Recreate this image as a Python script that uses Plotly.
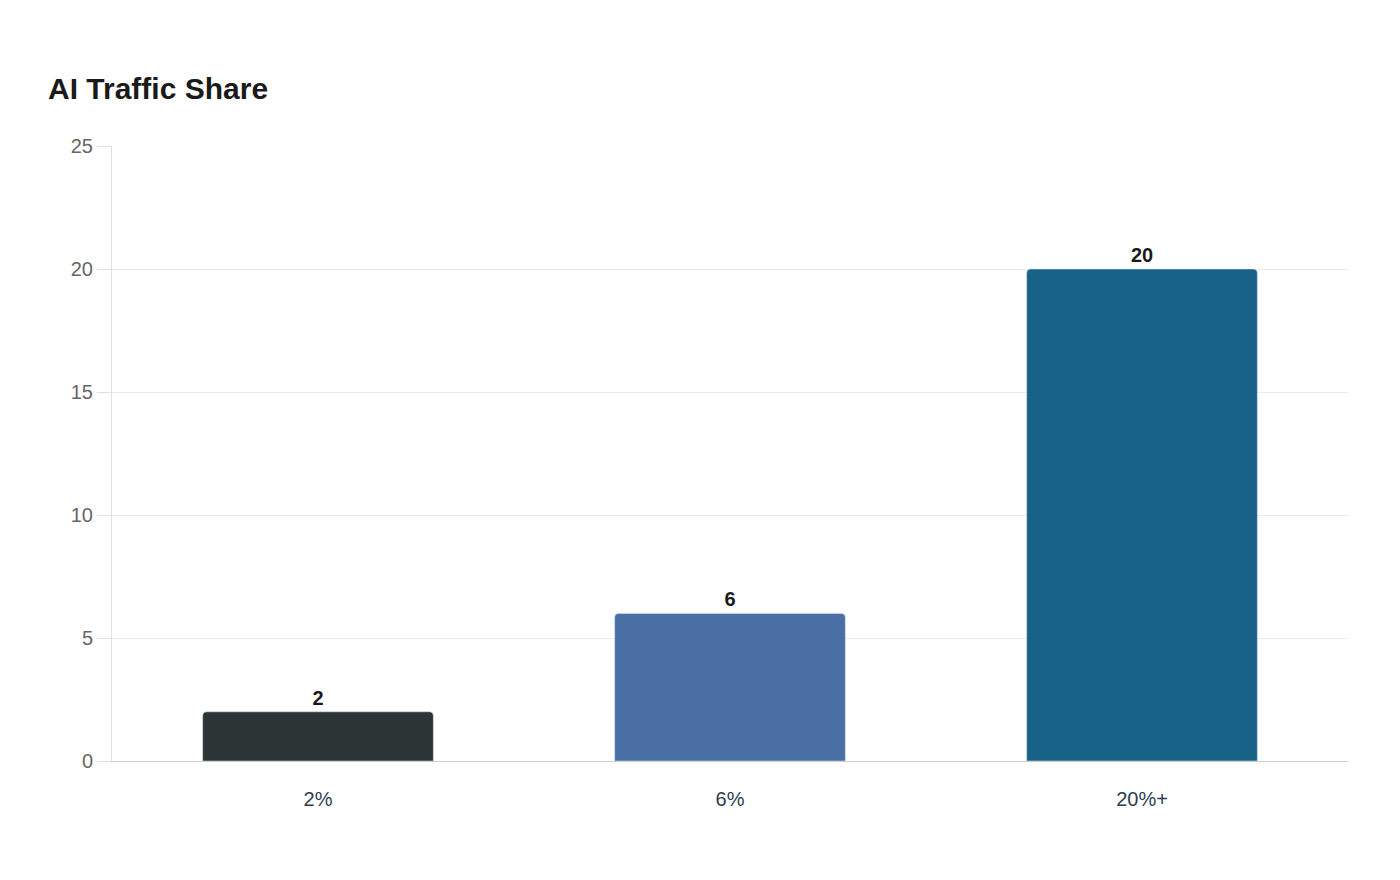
import plotly.graph_objects as go

categories = ["2%", "6%", "20%+"]
values = [2, 6, 20]
colors = ["#2d3436", "#4a6fa5", "#186287"]

fig = go.Figure(go.Bar(
    x=categories, y=values,
    marker=dict(color=colors, cornerradius=4),
    width=0.56,
    text=[str(v) for v in values],
    textposition="outside",
    textfont=dict(size=20, color="#1a1a1a", family="Liberation Sans"),
    texttemplate="<b>%{text}</b>",
    cliponaxis=False,
))

fig.update_layout(
    width=1400, height=880,
    paper_bgcolor="white", plot_bgcolor="white",
    font=dict(family="Liberation Sans, Arial, sans-serif"),
    title=dict(text="<b>AI Traffic Share</b>", x=40 / 1400, xanchor="left",
               y=1 - 80 / 880, yanchor="middle",
               font=dict(size=30, color="#1a1a1a")),
    margin=dict(l=104, r=60, t=138, b=127),
    showlegend=False,
)
fig.update_yaxes(range=[0, 25], dtick=5, showgrid=True, gridcolor="#ebebeb",
                 showline=True, linecolor="#e0e0e0", ticks="outside",
                 ticklen=14, tickcolor="#e0e0e0",
                 tickfont=dict(size=20, color="#666666"), zeroline=False)
fig.update_xaxes(showline=True, linecolor="#cccccc",
                 tickfont=dict(size=20, color="#2d3e50"), ticklen=20,
                 ticks="outside", tickcolor="rgba(0,0,0,0)")

fig.write_html("out.html")
